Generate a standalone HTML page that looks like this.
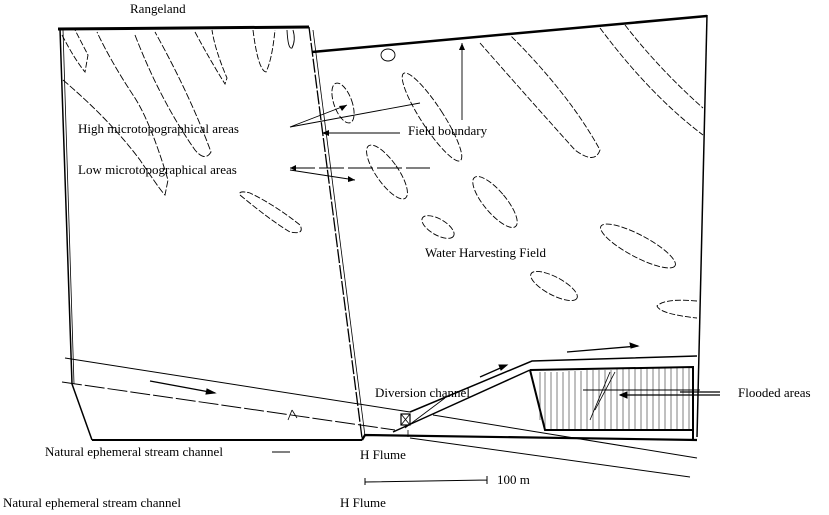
<!DOCTYPE html>
<html><head><meta charset="utf-8"><style>
body{margin:0;background:#fff}
svg{display:block}
text{font-family:"Liberation Serif",serif;font-size:13px;fill:#000}
</style></head><body>
<svg width="829" height="515" viewBox="0 0 829 515" xmlns="http://www.w3.org/2000/svg">
<g fill="none" stroke="#000">
<!-- left field -->
<path d="M58 29 L309 27" stroke-width="3"/>
<path d="M60 29 L72 384 L92 440" stroke-width="1.5"/>
<path d="M63 30 L74 384" stroke-width="0.8"/>
<path d="M92 440 L362 440" stroke-width="2"/>
<path d="M309 27 L362 438" stroke-width="1.3" stroke-dasharray="14 2"/>
<path d="M313 30 L365 436" stroke-width="0.8"/>
<!-- right field -->
<path d="M312 52 L707 16" stroke-width="2.5"/>
<path d="M707 15 L697 437" stroke-width="1.5"/>
<path d="M362 440 L365 435 L697 440" stroke-width="2.2"/>
<!-- left tongues -->
<path d="M62 35 Q75 60 85 72 L88 55 L75 30" stroke-width="0.9" stroke-dasharray="6 2"/>
<path d="M63 80 Q110 120 140 160 Q160 190 165 195 L168 180 Q150 120 133 95 Q110 60 97 32" stroke-width="0.9" stroke-dasharray="7 2"/>
<path d="M135 35 Q160 100 195 150 Q205 162 211 152 Q190 95 155 32" stroke-width="0.9" stroke-dasharray="7 2"/>
<path d="M195 32 Q210 60 225 84 L227 78 Q215 50 212 30" stroke-width="0.9" stroke-dasharray="6 2"/>
<path d="M253 30 Q258 70 266 72 Q272 60 275 30" stroke-width="0.9" stroke-dasharray="6 2"/>
<path d="M287 30 Q288 50 292 48 Q296 40 293 30" stroke-width="0.9"/>
<path d="M240 195 Q270 220 290 232 Q305 235 300 225 Q275 205 250 193 Q238 190 240 195Z" stroke-width="0.9" stroke-dasharray="6 2"/>
<!-- right tongues -->
<path d="M480 43 Q530 100 575 150 Q595 165 600 150 Q570 95 510 35" stroke-width="0.9" stroke-dasharray="6 2"/>
<path d="M600 28 Q650 95 703 135 M625 25 Q660 70 703 108" stroke-width="0.9" stroke-dasharray="6 2"/>
<!-- right ellipses -->
<ellipse cx="343" cy="103" rx="9" ry="21" transform="rotate(-20 343 103)" stroke-width="0.9" stroke-dasharray="6 2"/>
<ellipse cx="388" cy="55" rx="7" ry="6" stroke-width="0.9"/>
<ellipse cx="432" cy="117" rx="11" ry="52" transform="rotate(-33 432 117)" stroke-width="0.9" stroke-dasharray="6 2"/>
<ellipse cx="387" cy="172" rx="11" ry="32" transform="rotate(-35 387 172)" stroke-width="0.9" stroke-dasharray="6 2"/>
<ellipse cx="438" cy="227" rx="18" ry="8" transform="rotate(30 438 227)" stroke-width="0.9" stroke-dasharray="6 2"/>
<ellipse cx="495" cy="202" rx="11" ry="32" transform="rotate(-40 495 202)" stroke-width="0.9" stroke-dasharray="6 2"/>
<ellipse cx="638" cy="246" rx="42" ry="11" transform="rotate(28 638 246)" stroke-width="0.9" stroke-dasharray="6 2"/>
<ellipse cx="554" cy="286" rx="26" ry="9" transform="rotate(28 554 286)" stroke-width="0.9" stroke-dasharray="6 2"/>
<path d="M697 301 Q665 298 657 306 Q660 314 697 318" stroke-width="0.9" stroke-dasharray="6 2"/>
<!-- label arrows -->
<path d="M290 127 L347 105 M290 127 L420 103 M462 43 L462 120 M400 133 L322 133 M290 170 L355 180" stroke-width="0.9"/>
<path d="M290 168 L430 168" stroke-width="0.9" stroke-dasharray="25 4"/>
<path d="M322 133 l7 -3 v6z M290 168 l6 -3 v6z M355 180 l-7 -4 v6z M347 105 l-8 1 3 5z M462 43 l-3 7 h6z" fill="#000" stroke="none"/>
<!-- stream -->
<path d="M65 358 L410 412" stroke-width="1"/>
<path d="M62 382 L395 430" stroke-width="1" stroke-dasharray="20 3"/>
<path d="M433 415 L697 458" stroke-width="1"/>
<path d="M410 438 L690 477" stroke-width="1"/>
<path d="M150 381 L215 393" stroke-width="1.3"/>
<path d="M215 393 l-8 -4 -1 5z" fill="#000"/>
<path d="M292 410 l-4 10 M292 410 l5 8" stroke-width="0.8"/>
<!-- diversion channel -->
<path d="M410 412 L532 361 L697 356" stroke-width="1.5"/>
<path d="M393 432 L530 370" stroke-width="1.5"/>
<path d="M480 377 L505 366 M567 352 L638 346" stroke-width="1.3"/>
<path d="M638 346 l-8 -3 1 5z M507 365 l-8 0 2 5z" fill="#000"/>
<path d="M405 428 L445 398" stroke-width="0.8"/>
<rect x="401" y="414" width="9" height="11" stroke-width="1.2"/>
<path d="M401 414 L410 425 M410 414 L401 425" stroke-width="0.8"/>
<path d="M408 430 L408 437" stroke-width="0.8"/>
<!-- flooded area -->
<path d="M530 370 L693 367 L693 440 M530 370 L545 430 L693 430" stroke-width="2"/>
<g stroke-width="0.5">
<path d="M540 372V420M545 372V430M551 372V430M557 372V430M563 372V430M569 371V430M575 371V430M581 371V430M587 370V430M593 370V430M599 370V430M605 370V430M611 370V430M617 369V430M623 369V430M629 369V430M635 369V430M641 368V430M647 368V430M653 368V430M659 368V430M665 367V430M671 367V430M677 367V430M683 367V430M689 367V430"/>
</g>
<path d="M590 420 L610 372 M595 410 L615 372" stroke-width="0.8"/>
<path d="M583 390 L700 390" stroke-width="0.9"/>
<path d="M620 395 L720 395 M680 392 L720 392" stroke-width="1.3"/>
<path d="M620 395 l7 -3 v6z" fill="#000"/>
<!-- scale -->
<path d="M365 482 L487 480 M365 478 L365 485 M487 476 L487 484" stroke-width="1"/>
<path d="M272 452 L290 452" stroke-width="0.9"/>
</g>
<text x="130" y="13">Rangeland</text>
<text x="78" y="133">High microtopographical areas</text>
<text x="408" y="135">Field boundary</text>
<text x="78" y="174">Low microtopographical areas</text>
<text x="425" y="257">Water Harvesting Field</text>
<text x="375" y="397">Diversion channel</text>
<text x="738" y="397">Flooded areas</text>
<text x="45" y="456">Natural ephemeral stream channel</text>
<text x="360" y="459">H Flume</text>
<text x="497" y="484">100 m</text>
<text x="3" y="507">Natural ephemeral stream channel</text>
<text x="340" y="507">H Flume</text>
</svg>
</body></html>
